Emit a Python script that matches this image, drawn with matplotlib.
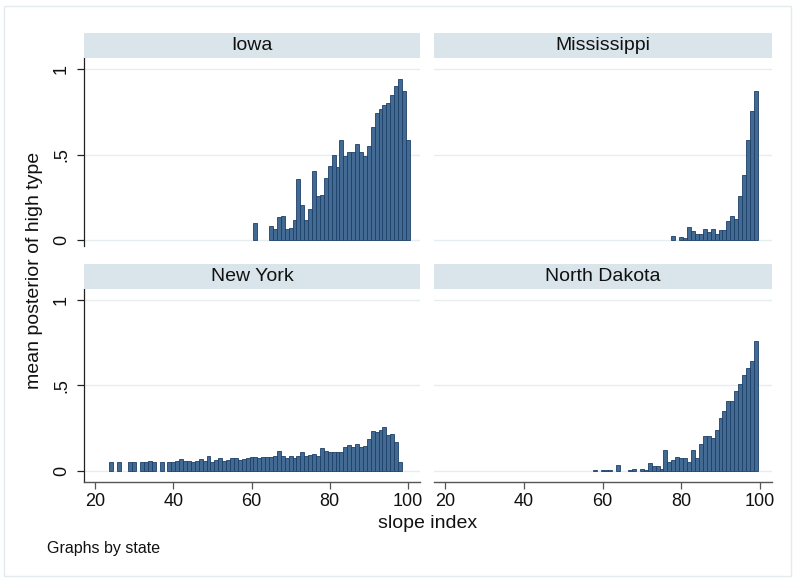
import matplotlib
matplotlib.use("Agg")
import matplotlib.pyplot as plt
from matplotlib.patches import Rectangle

plt.rcParams['font.family'] = ['Liberation Sans', 'DejaVu Sans']

# ---------------- data ----------------
states = ["Iowa", "Mississippi", "New York", "North Dakota"]

iowa_x = [61, 65, 66, 67, 68, 69, 70, 71, 72, 73, 74, 75, 76, 77, 78, 79, 80,
          81, 82, 83, 84, 85, 86, 87, 88, 89, 90, 91, 92, 93, 94, 95, 96, 97,
          98, 99, 100]
iowa_y = [0.10, 0.081, 0.062, 0.134, 0.138, 0.062, 0.072, 0.116, 0.358, 0.203,
          0.116, 0.182, 0.403, 0.256, 0.265, 0.364, 0.432, 0.498, 0.425, 0.585,
          0.49, 0.516, 0.514, 0.564, 0.514, 0.489, 0.55, 0.66, 0.742, 0.765,
          0.789, 0.80, 0.849, 0.90, 0.94, 0.87, 0.585]

miss_x = [78, 80, 81, 82, 83, 84, 85, 86, 87, 88, 89, 90, 91, 92, 93, 94, 95,
          96, 97, 98, 99]
miss_y = [0.023, 0.016, 0.01, 0.074, 0.055, 0.037, 0.033, 0.062, 0.047, 0.062,
          0.037, 0.06, 0.06, 0.109, 0.14, 0.123, 0.257, 0.38, 0.585, 0.754, 0.871]

ny_x = [24, 26, 29, 30, 32, 33, 34, 35, 37, 39, 40, 41, 42, 43, 44, 45, 46, 47,
        48, 49, 50, 51, 52, 53, 54, 55, 56, 57, 58, 59, 60, 61, 62, 63, 64, 65,
        66, 67, 68, 69, 70, 71, 72, 73, 74, 75, 76, 77, 78, 79, 80, 81, 82, 83,
        84, 85, 86, 87, 88, 89, 90, 91, 92, 93, 94, 95, 96, 97, 98]
ny_y = [0.05, 0.05, 0.05, 0.05, 0.05, 0.052, 0.056, 0.052, 0.05, 0.054, 0.054,
        0.058, 0.068, 0.058, 0.058, 0.054, 0.058, 0.072, 0.058, 0.088, 0.054,
        0.062, 0.076, 0.06, 0.066, 0.074, 0.074, 0.066, 0.068, 0.074, 0.08,
        0.08, 0.078, 0.08, 0.08, 0.08, 0.09, 0.117, 0.086, 0.078, 0.086, 0.078,
        0.086, 0.111, 0.086, 0.093, 0.10, 0.086, 0.132, 0.117, 0.109, 0.113,
        0.113, 0.109, 0.14, 0.15, 0.14, 0.16, 0.14, 0.148, 0.185, 0.233, 0.23,
        0.237, 0.255, 0.212, 0.214, 0.171, 0.05]

nd_x = [58, 60, 61, 62, 64, 67, 68, 70, 71, 72, 73, 74, 75, 76, 77, 78, 79, 80,
        81, 82, 83, 84, 85, 86, 87, 88, 89, 90, 91, 92, 93, 94, 95, 96, 97, 98, 99]
nd_y = [0.004, 0.004, 0.004, 0.004, 0.037, 0.004, 0.014, 0.01, 0.003, 0.045,
        0.027, 0.027, 0.01, 0.12, 0.053, 0.066, 0.08, 0.074, 0.074, 0.053, 0.123,
        0.076, 0.16, 0.202, 0.202, 0.19, 0.237, 0.307, 0.348, 0.407, 0.407,
        0.467, 0.506, 0.56, 0.603, 0.644, 0.759]

x_ticks = [20, 40, 60, 80, 100]
y_ticks = [0, 0.5, 1]
y_ticklabels = ["0", ".5", "1"]

# ---------------- layout ----------------
W, H = 795, 579
fig = plt.figure(figsize=(W / 100, H / 100), dpi=100)
fig.patch.set_facecolor("white")

def rect(x0, y0, x1, y1):
    return [x0 / W, 1 - y1 / H, (x1 - x0) / W, (y1 - y0) / H]

# outer graph region border
fig.patches.append(Rectangle((4 / W, 1 - 576 / H), 787 / W, 570 / H,
                             transform=fig.transFigure, fill=False,
                             edgecolor="#e3ebee", lw=1.0))

bar_face = "#436a93"
bar_edge = "#1d4068"
grid_c = "#e5edf0"
strip_c = "#d9e5eb"

panels = [
    (states[0], iowa_x, iowa_y, (84, 58, 420, 246), (33, 58), True, False),
    (states[1], miss_x, miss_y, (434, 58, 772, 246), (33, 58), False, False),
    (states[2], ny_x, ny_y, (84, 289, 420, 482), (264, 289), True, True),
    (states[3], nd_x, nd_y, (434, 289, 772, 482), (264, 289), False, True),
]

for name, xs, ys, (x0, y0, x1, y1), (sy0, sy1), show_y, show_x in panels:
    ax = fig.add_axes(rect(x0, y0, x1, y1))
    ax.set_facecolor("white")
    ax.set_xlim(17.15, 103.1)
    if show_x:
        ax.set_ylim(-(482 - 471) / 171.5, (471 - 289) / 171.5)
    else:
        ax.set_ylim(-(246 - 240) / 171.0, (240 - 58) / 171.0)
    for yv in y_ticks:
        ax.axhline(yv, color=grid_c, lw=1.0, zorder=0)
    ax.bar(xs, ys, width=1.0, color=bar_face, edgecolor=bar_edge,
           linewidth=0.6, zorder=2)
    for s in ("top", "right"):
        ax.spines[s].set_visible(False)
    ax.spines["left"].set_visible(show_y)
    ax.spines["left"].set_color("#222222")
    ax.spines["left"].set_linewidth(0.9)
    ax.spines["bottom"].set_visible(show_x)
    ax.spines["bottom"].set_color("#555555")
    ax.spines["bottom"].set_linewidth(1.0)
    if show_y:
        ax.set_yticks(y_ticks)
        ax.set_yticklabels(y_ticklabels, rotation=90, va="center",
                           fontsize=13, color="#111111")
        ax.tick_params(axis="y", length=5, width=0.9, color="#222222", pad=5)
    else:
        ax.set_yticks([])
    if show_x:
        ax.set_xticks(x_ticks)
        ax.set_xticklabels([str(t) for t in x_ticks], fontsize=13,
                           color="#111111")
        ax.tick_params(axis="x", length=5, width=0.9, color="#555555", pad=3)
    else:
        ax.set_xticks([])

    # strip header
    fig.patches.append(Rectangle((x0 / W, 1 - sy1 / H), (x1 - x0) / W,
                                 (sy1 - sy0) / H, transform=fig.transFigure,
                                 facecolor=strip_c, edgecolor="none"))
    fig.text((x0 + x1) / 2 / W, 1 - (sy0 + sy1) / 2 / H, name, ha="center",
             va="center", fontsize=14, color="#111111")

fig.text(35 / W, 1 - 270 / H, "mean posterior of high type", rotation=90,
         ha="center", va="center", fontsize=14, color="#111111")
fig.text(428 / W, 1 - 524 / H, "slope index", ha="center", va="center",
         fontsize=14, color="#111111")
fig.text(47 / W, 1 - 549 / H, "Graphs by state", ha="left", va="center",
         fontsize=11.5, color="#111111")

fig.savefig("out.png", dpi=100, facecolor="white")
